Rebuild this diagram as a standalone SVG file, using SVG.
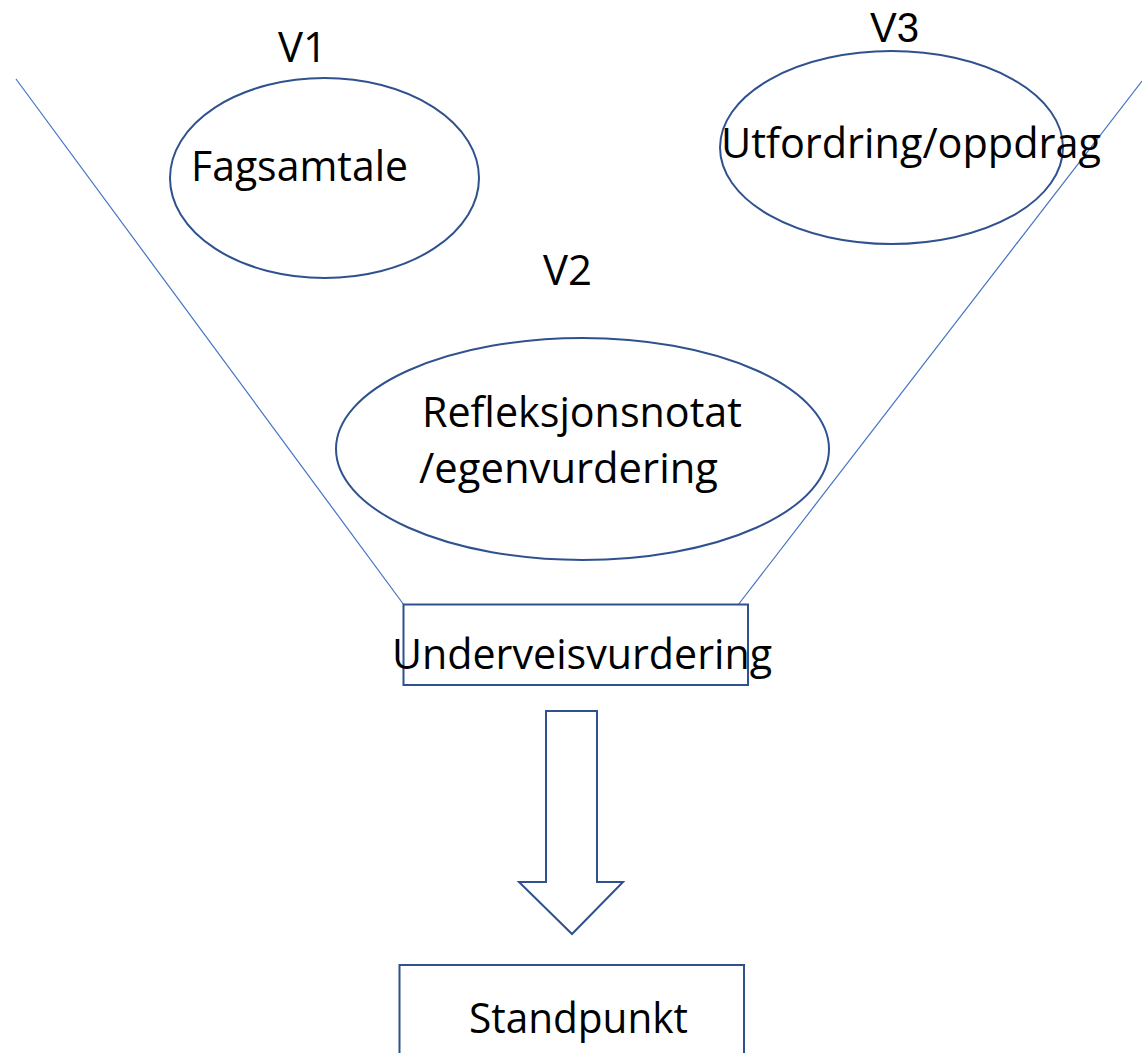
<svg xmlns="http://www.w3.org/2000/svg" width="1142" height="1053" viewBox="0 0 1142 1053">
<style>
.shape{fill:none;stroke:#2F528F;stroke-width:2}
.guide{stroke:#4472C4;stroke-width:1.2;fill:none}
.t{font-family:"Open Sans","Noto Sans","Liberation Sans",sans-serif;font-size:42px;fill:#000}
.tl{font-family:"Liberation Sans",Arial,sans-serif;font-size:42px;fill:#000}
</style>
<rect width="1142" height="1053" fill="#fff"/>
<g id="connectors">
<line class="guide" x1="16" y1="79" x2="404" y2="605"/>
<line class="guide" x1="1142" y1="81" x2="738" y2="605"/>
<path id="arrow" class="shape" d="M546,711 H597 V882 H623 L572,934 L519,882 H546 Z"/>
</g>
<g id="v1">
<text class="t" x="278" y="62" textLength="49" lengthAdjust="spacingAndGlyphs">V1</text>
<ellipse class="shape" cx="324.5" cy="178" rx="154.5" ry="100"/>
<text class="t" x="191" y="181" textLength="217" lengthAdjust="spacingAndGlyphs">Fagsamtale</text>
</g>
<g id="v3">
<text class="tl" x="870" y="42" textLength="49" lengthAdjust="spacingAndGlyphs">V3</text>
<ellipse class="shape" cx="891.5" cy="147.5" rx="171.5" ry="96.5"/>
<text class="t" x="721" y="158" textLength="380" lengthAdjust="spacingAndGlyphs">Utfordring/oppdrag</text>
</g>
<g id="v2">
<text class="t" x="543" y="285" textLength="49" lengthAdjust="spacingAndGlyphs">V2</text>
<ellipse class="shape" cx="582.5" cy="449" rx="246.5" ry="111"/>
<text class="t" x="422" y="427" textLength="320" lengthAdjust="spacingAndGlyphs">Refleksjonsnotat</text>
<text class="t" x="419" y="483" textLength="299" lengthAdjust="spacingAndGlyphs">/egenvurdering</text>
</g>
<g id="underveis">
<rect class="shape" x="403.5" y="604.5" width="344.5" height="80.5"/>
<text class="t" x="392" y="669" textLength="380" lengthAdjust="spacingAndGlyphs">Underveisvurdering</text>
</g>
<g id="standpunkt">
<rect class="shape" x="399.5" y="965" width="344.5" height="100"/>
<text class="t" x="469" y="1033" textLength="219" lengthAdjust="spacingAndGlyphs">Standpunkt</text>
</g>
</svg>
